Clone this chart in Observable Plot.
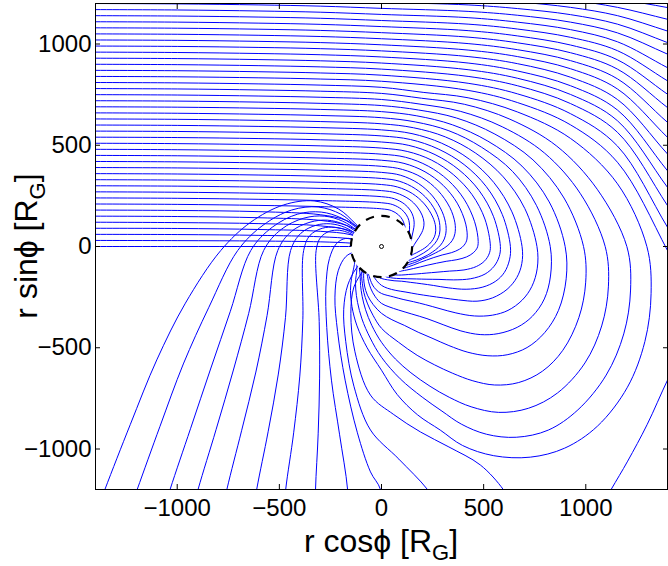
<!DOCTYPE html>
<html><head><meta charset="utf-8">
<script src="https://cdn.jsdelivr.net/npm/d3@7"></script>
<script src="https://cdn.jsdelivr.net/npm/@observablehq/plot@0.6"></script>
<style>body{margin:0;background:#fff} #chart svg{display:block;overflow:visible}</style>
</head><body><div id="chart"></div>
<script>
const xTicks = [-1000, -500, 0, 500, 1000];
const yTicks = [-1000, -500, 0, 500, 1000];
const xDomain = [-1400, 1400];
const yDomain = [-1200, 1200];
const discRadius = 150;

// Lines that run straight into the disc from the left (heights 0..180)
const directLines = [
  [[-1450,0],[-1000,0],[-600,0],[-300,0],[-120,0],[0,0]],
  [[-1450,30],[-1000,29],[-600,27],[-300,23],[-140,16],[0,0]],
  [[-1450,60],[-1000,59],[-600,55],[-300,48],[-140,36],[0,0]],
  [[-1450,90],[-1000,89],[-600,84],[-300,75],[-150,58],[-40,15]],
  [[-1450,120],[-1000,118],[-600,113],[-300,102],[-160,80],[-60,30]],
  [[-1450,150],[-1000,148],[-600,142],[-300,129],[-170,104],[-70,50]],
  [[-1450,180],[-1000,178],[-600,172],[-300,157],[-170,128],[-80,70]]
];

// Wrapping lines: incoming height, straight part (x = inX), then r(phi) samples
const inX = [-1450, -1000, -600, -300, 0];
const loopB = [210,240,270,300,330,360,390,420,450,480,510,540,570,600,630,660,690,720,750,780,810];
const loopInY = [
  [210,208,203,197,186],[240,238,233,227,216],
  [270,268,263,257,246],[300,298,293,287,276],[330,328,323,317,306],[360,358,353,347,336],
  [390,388,383,377,366],[420,418,413,407,396],[450,448,443,437,426],[480,478,473,467,456],
  [510,508,503,497,486],[540,538,533,527,516],[570,568,563,557,546],[600,598,593,587,576],
  [630,628,623,617,606],[660,658,653,647,636],[690,688,683,677,666],[720,718,713,707,696],
  [750,748,743,737,726],[780,778,773,767,756],[810,808,803,797,786]
];
// [phi in degrees, r in R_G]
const loopPolar = [
  [[75,184],[62,177],[52,167],[45,157],[39,148],[33,110]],
  [[75,214],[62,208],[52,198],[44,186],[37,172],[31,160],[25,150],[19,140],[13,110]],
  [[75,244],[62,238],[52,228],[44,215],[37,200],[31,185],[25,170],[19,158],[13,150],[8,140],[3,110]],
  [[75,274],[60,270],[48,262],[38,252],[30,240],[24,225],[19,208],[14,190],[9,174],[4,162],[-1,153],[-6,140],[-11,110]],
  [[75,304],[60,302],[45,297],[30,290],[20,282],[13,270],[8,255],[3,235],[-2,212],[-6,192],[-10,175],[-14,160],[-17,152],[-21,110]],
  [[75,334],[60,330],[45,324],[30,315],[20,304],[12,290],[6,272],[1,252],[-4,230],[-9,208],[-14,188],[-19,172],[-23,160],[-27,150],[-31,110]],
  [[75,364],[60,360],[45,353],[30,343],[18,332],[10,318],[4,300],[-1,278],[-6,252],[-11,228],[-16,205],[-21,185],[-26,168],[-30,156],[-33,150],[-37,110]],
  [[75,394],[60,394],[45,391],[30,386],[18,378],[10,365],[5,348],[1,325],[-3,295],[-7,265],[-12,235],[-17,210],[-23,190],[-29,172],[-34,160],[-38,150],[-42,110]],
  [[75,425],[60,426],[45,427],[30,428],[15,427],[5,420],[1,405],[-2,382],[-5,345],[-8,300],[-12,262],[-17,230],[-23,203],[-30,182],[-37,166],[-43,155],[-46,150],[-50,110]],
  [[75,456],[60,458],[45,462],[30,467],[15,472],[3,474],[-1,468],[-4,450],[-7,420],[-10,375],[-13,325],[-17,282],[-22,245],[-28,215],[-35,190],[-43,170],[-50,157],[-55,150],[-59,110]],
  [[75,486],[60,492],[45,500],[30,512],[15,524],[0,533],[-4,528],[-8,510],[-12,475],[-16,420],[-20,355],[-25,300],[-31,255],[-38,220],[-46,192],[-55,172],[-63,158],[-68,150],[-72,110]],
  [[75,517],[60,524],[45,536],[30,552],[15,568],[0,582],[-5,578],[-10,560],[-15,525],[-20,465],[-25,390],[-30,325],[-36,275],[-43,235],[-51,205],[-60,183],[-70,166],[-78,155],[-82,150],[-86,110]],
  [[75,547],[60,556],[45,572],[30,592],[15,612],[0,631],[-6,630],[-12,615],[-17,585],[-22,535],[-27,465],[-32,385],[-37,320],[-43,270],[-51,228],[-60,198],[-70,180],[-80,167],[-90,158],[-95,150],[-99,110]],
  [[75,577],[60,589],[45,609],[30,634],[15,661],[0,688],[-7,692],[-13,680],[-19,650],[-25,600],[-30,540],[-35,460],[-40,395],[-46,340],[-53,295],[-62,255],[-72,228],[-82,208],[-90,192],[-96,176],[-101,162],[-105,150],[-109,110]],
  [[75,607],[60,625],[45,652],[30,688],[15,726],[0,761],[-8,770],[-15,762],[-21,738],[-27,695],[-32,640],[-37,570],[-42,490],[-47,420],[-53,360],[-60,315],[-68,282],[-77,255],[-90,232],[-97,215],[-103,195],[-108,175],[-112,160],[-115,150],[-119,110]],
  [[75,637],[60,660],[45,693],[30,741],[15,785],[0,826],[-10,840],[-18,838],[-25,815],[-31,775],[-37,715],[-42,650],[-47,570],[-52,490],[-58,420],[-66,365],[-75,325],[-83,300],[-90,281],[-97,250],[-104,215],[-110,185],[-115,162],[-118,150],[-122,110]],
  [[75,668],[60,694],[45,736],[30,794],[15,850],[0,899],[-10,918],[-20,922],[-28,905],[-35,870],[-41,815],[-46,750],[-51,672],[-56,590],[-61,520],[-67,460],[-74,405],[-82,365],[-90,330],[-98,290],[-106,250],[-113,212],[-119,180],[-123,160],[-125,150],[-129,110]],
  [[75,698],[60,733],[45,785],[30,856],[15,925],[0,989],[-10,1015],[-20,1028],[-30,1025],[-38,1000],[-45,950],[-51,880],[-56,800],[-61,715],[-66,640],[-72,565],[-80,480],[-90,404],[-97,342],[-104,288],[-111,242],[-117,206],[-123,178],[-129,150],[-135,110]],
  [[75,728],[60,771],[45,836],[30,922],[15,1008],[0,1095],[-10,1128],[-20,1147],[-30,1150],[-40,1125],[-48,1075],[-55,1000],[-61,905],[-66,815],[-71,730],[-77,640],[-83,560],[-90,473],[-97,392],[-104,322],[-111,264],[-118,218],[-124,186],[-130,165],[-136,150],[-142,110]],
  [[75,758],[60,811],[45,889],[30,991],[15,1093],[0,1201],[-10,1238],[-20,1262],[-30,1270],[-40,1255],[-48,1220],[-55,1150],[-61,1060],[-66,960],[-70,865],[-75,770],[-82,660],[-90,547],[-97,455],[-105,370],[-113,300],[-121,245],[-128,205],[-134,175],[-139,160],[-143,150],[-149,110]],
  [[75,788],[60,848],[45,940],[30,1068],[15,1196],[0,1299],[-10,1340],[-20,1372],[-30,1390],[-40,1380],[-48,1340],[-55,1270],[-62,1170],[-68,1060],[-72.4,951],[-78,850],[-84,735],[-90,611],[-98,505],[-107,410],[-116,330],[-125,265],[-133,215],[-140,180],[-146,160],[-150,150],[-156,110]]
];

// Upper lines that leave through the right edge
const topX = [-1450, -1000, -600, -300, 0, 424, 665, 925, 1155, 1400, 1600];
const topY = [
  [840,838,833,827,816,771,711,601,416,-20,-430],
  [870,868,863,857,846,806,754,656,496,95,-240],
  [900,898,893,887,876,840,794,706,564,202,-110],
  [930,928,923,917,906,873,831,751,621,292,20],
  [960,958,953,947,936,906,867,794,674,374,130],
  [990,988,983,977,966,938,903,836,726,457,240],
  [1020,1018,1013,1007,996,970,938,878,778,539,345],
  [1050,1048,1043,1037,1026,1002,972,918,828,613,440],
  [1080,1078,1073,1067,1056,1034,1006,957,876,686,530],
  [1110,1108,1103,1097,1086,1066,1040,995,922,752,612],
  [1140,1138,1133,1127,1116,1098,1074,1033,967,818,695],
  [1170,1168,1163,1157,1146,1130,1108,1071,1011,883,777],
  [1200,1198,1193,1187,1176,1161,1142,1108,1055,950,860],
  [1230,1228,1223,1217,1206,1193,1175,1145,1098,1007,930],
  [1260,1258,1253,1247,1236,1224,1208,1181,1140,1064,1000],
  [1290,1288,1283,1277,1266,1255,1241,1217,1181,1122,1072],
  [1320,1318,1313,1307,1296,1286,1274,1253,1222,1180,1140]
];

// Arcs entering through the bottom edge and curling into the disc
const bottomArcs = [
  [[-1420,-1380],[-1354,-1200],[-1230,-880],[-1100,-560],[-960,-280],[-787,-20],[-640,120],[-480,205],[-330,225],[-210,185],[-130,115],[-60,40]],
  [[-1260,-1380],[-1196,-1200],[-1085,-890],[-970,-580],[-845,-300],[-704,-20],[-580,105],[-440,180],[-310,195],[-200,160],[-125,100],[-60,35]],
  [[-1090,-1380],[-1035,-1200],[-935,-900],[-835,-600],[-740,-320],[-640,-20],[-535,95],[-410,160],[-295,170],[-195,140],[-120,90],[-60,30]],
  [[-945,-1380],[-898,-1200],[-810,-905],[-725,-610],[-650,-330],[-577,-20],[-490,85],[-380,140],[-280,150],[-190,125],[-120,80],[-60,30]],
  [[-795,-1380],[-757,-1200],[-685,-910],[-615,-620],[-560,-340],[-508,-20],[-440,75],[-350,120],[-265,130],[-185,110],[-120,70],[-60,25]],
  [[-640,-1380],[-611,-1200],[-555,-915],[-505,-630],[-470,-350],[-445,-20],[-395,65],[-320,105],[-250,112],[-180,95],[-120,60],[-60,20]],
  [[-485,-1380],[-469,-1200],[-430,-920],[-400,-640],[-385,-360],[-381,-20],[-350,55],[-290,90],[-230,95],[-170,80],[-115,50],[-60,15]],
  [[-325,-1380],[-323,-1200],[-310,-925],[-303,-650],[-305,-370],[-320,-20],[-298,45],[-255,75],[-205,80],[-155,65],[-110,40],[-60,10]],
  [[-160,-1380],[-166,-1200],[-205,-930],[-245,-660],[-268,-400],[-272,-200],[-255,-60],[-220,15],[-175,40],[-120,30],[-70,10]],
  [[10,-1380],[-5,-1200],[-54,-1113],[-118,-920],[-178,-660],[-215,-420],[-228,-250],[-212,-120],[-175,-50],[-130,-25],[-80,-10]],
  [[300,-1320],[225,-1200],[85,-1050],[-54,-906],[-135,-690],[-175,-470],[-185,-310],[-165,-190],[-125,-110],[-80,-60]],
  [[640,-1280],[596,-1200],[484,-1079],[330,-990],[191,-916],[60,-830],[-54,-734],[-130,-520],[-150,-330],[-135,-200],[-90,-120]]
];
// Arc coming back in through the right edge
const reentryArc = [[1480,-500],[1400,-660],[1300,-880],[1205,-1060],[1124,-1200],[1050,-1330]];

// ---- assemble rows (polar samples become x = r cos phi, y = r sin phi) ----
const rows = [];
const push = (id, pts) => pts.forEach(([x, y]) => rows.push({id, x, y}));
const rad = Math.PI / 180;
directLines.forEach((p, i) => push("d" + i, p));
loopB.forEach((b, i) => {
  const pts = inX.map((x, j) => [x, loopInY[i][j]]);
  loopPolar[i].forEach(([phi, r]) => pts.push([r * Math.cos(phi * rad), r * Math.sin(phi * rad)]));
  push("l" + b, pts);
});
topY.forEach((ys, i) => push("t" + i, topX.map((x, j) => [x, ys[j]])));
bottomArcs.forEach((p, i) => push("b" + i, p));
push("re", reentryArc);

const W = 668, H = 566, mL = 95, mR = 1, mT = 3, mB = 77;
const rPx = discRadius * (W - mL - mR) / (xDomain[1] - xDomain[0]);
const fmt = d => (d < 0 ? "\u2212" : "") + Math.abs(d);

const chart = Plot.plot({
  width: W, height: H,
  marginLeft: mL, marginRight: mR, marginTop: mT, marginBottom: mB,
  x: {domain: xDomain, ticks: xTicks},
  y: {domain: yDomain, ticks: yTicks},
  style: {fontFamily: "Liberation Sans, Arial, sans-serif", background: "white"},
  marks: [
    Plot.line(rows, {x: "x", y: "y", z: "id", stroke: "#0000ff", strokeWidth: 1, curve: "catmull-rom", clip: true}),
    Plot.dot([{x: 0, y: 0}], {x: "x", y: "y", r: rPx, fill: "white", stroke: "black", strokeWidth: 2.2, strokeDasharray: "8.5,7.5"}),
    Plot.dot([{x: 0, y: 0}], {x: "x", y: "y", r: 2, fill: "none", stroke: "black", strokeWidth: 1}),
    Plot.frame({stroke: "black", strokeWidth: 1}),
    Plot.axisX(xTicks, {anchor: "bottom", tickSize: -5, tickPadding: 14, fontSize: 24, tickFormat: fmt, label: null}),
    Plot.axisX(xTicks, {anchor: "top", tickSize: -5, text: null, label: null}),
    Plot.axisY(yTicks, {anchor: "left", tickSize: -5, tickPadding: 9, fontSize: 24, tickFormat: fmt, label: null}),
    Plot.axisY(yTicks, {anchor: "right", tickSize: -5, text: null, label: null})
  ]
});
document.getElementById("chart").appendChild(chart);

const svg = d3.select(chart);
const font = "Liberation Sans, Arial, sans-serif";
const xl = svg.append("text").attr("x", mL + (W - mL - mR) / 2).attr("y", 552)
  .attr("text-anchor", "middle").attr("font-family", font).attr("font-size", 32).attr("fill", "black");
xl.append("tspan").text("r cosϕ [R");
xl.append("tspan").attr("font-size", 22).attr("dy", 8).text("G");
xl.append("tspan").attr("dy", -8).text("]");
const yl = svg.append("text").attr("transform", `translate(37,${mT + (H - mT - mB) / 2}) rotate(-90)`)
  .attr("text-anchor", "middle").attr("font-family", font).attr("font-size", 32).attr("fill", "black");
yl.append("tspan").text("r sinϕ [R");
yl.append("tspan").attr("font-size", 22).attr("dy", 8).text("G");
yl.append("tspan").attr("dy", -8).text("]");
</script></body></html>
